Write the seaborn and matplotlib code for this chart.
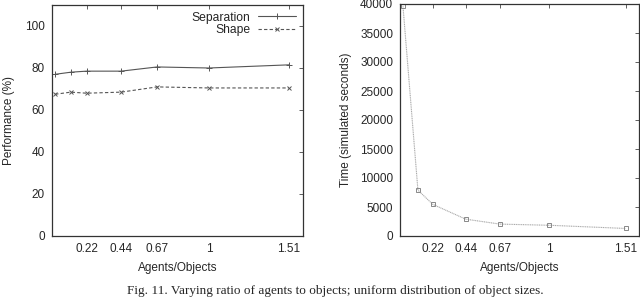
import matplotlib
matplotlib.use('Agg')
import matplotlib.pyplot as plt
import seaborn as sns
import pandas as pd

# agents / objects ratio (x positions shared by both panels)
ratio = [0.02, 0.12, 0.22, 0.44, 0.67, 1.0, 1.51]
tick_vals = [0.22, 0.44, 0.67, 1.0, 1.51]
tick_labels = ['0.22', '0.44', '0.67', '1', '1.51']

# left panel: performance (%)
separation = [77.0, 78.0, 78.5, 78.5, 80.5, 80.0, 81.5]
shape = [67.5, 68.5, 68.0, 68.5, 71.0, 70.5, 70.5]

# right panel: time (simulated seconds)
sim_time = [39600, 7900, 5450, 2900, 2050, 1850, 1300]

caption = "Fig. 11. Varying ratio of agents to objects; uniform distribution of object sizes."

sns.set_theme(style='white')
plt.rcParams['font.family'] = ['Liberation Sans', 'DejaVu Sans']

perf = pd.DataFrame({'ratio': ratio * 2,
                     'value': separation + shape,
                     'series': ['Separation'] * len(ratio) + ['Shape'] * len(ratio)})
tm = pd.DataFrame({'ratio': ratio, 'time': sim_time})

fig = plt.figure(figsize=(6.4, 2.99), dpi=100)
ax1 = fig.add_axes([52 / 640, 1 - 236 / 299, 251 / 640, 231 / 299])
ax2 = fig.add_axes([400 / 640, 1 - 236 / 299, 239 / 640, 232 / 299])

# left: two performance series
sns.lineplot(data=perf[perf.series == 'Separation'], x='ratio', y='value', ax=ax1,
             color='#555555', lw=0.8, marker='+', markersize=4, markeredgewidth=0.7,
             markeredgecolor='#555555', label='Separation')
sns.lineplot(data=perf[perf.series == 'Shape'], x='ratio', y='value', ax=ax1,
             color='#555555', lw=0.8, linestyle=(0, (3, 2)), marker='x', markersize=3.5,
             markeredgewidth=0.7, markeredgecolor='#555555', label='Shape')
ax1.set_ylim(0, 110)
ax1.set_yticks([0, 20, 40, 60, 80, 100])
ax1.set_ylabel('Performance (%)', fontsize=8.5, labelpad=7)
ax1.legend(loc='upper right', frameon=False, markerfirst=False, fontsize=8.7,
           handlelength=3.2, borderaxespad=0.15, labelspacing=0.05, handletextpad=0.6)

# right: simulation time
sns.lineplot(data=tm, x='ratio', y='time', ax=ax2, color='#aaaaaa', lw=0.8,
             linestyle=(0, (1, 0.6)), marker='s', markersize=3.5, markerfacecolor='none',
             markeredgecolor='#888888', markeredgewidth=0.7)
ax2.set_ylim(0, 40000)
ax2.set_yticks(range(0, 40001, 5000))
ax2.set_ylabel('Time (simulated seconds)', fontsize=8.5, labelpad=6)

for ax in (ax1, ax2):
    ax.set_xlim(0, 1.6)
    ax.set_xticks(tick_vals)
    ax.set_xticklabels(tick_labels)
    ax.set_xlabel('Agents/Objects', fontsize=8.5, labelpad=5)
    ax.tick_params(direction='in', length=3, width=0.6, labelsize=8.5, color='#444444',
                   top=True, right=True, pad=5)
    for s in ax.spines.values():
        s.set_color('#333333')
        s.set_linewidth(0.9)

fig.text(335 / 640, 1 - 291 / 299, caption, ha='center', va='center', fontsize=9.5,
         family=['Liberation Serif', 'DejaVu Serif'])

fig.savefig('out.png', dpi=100)
